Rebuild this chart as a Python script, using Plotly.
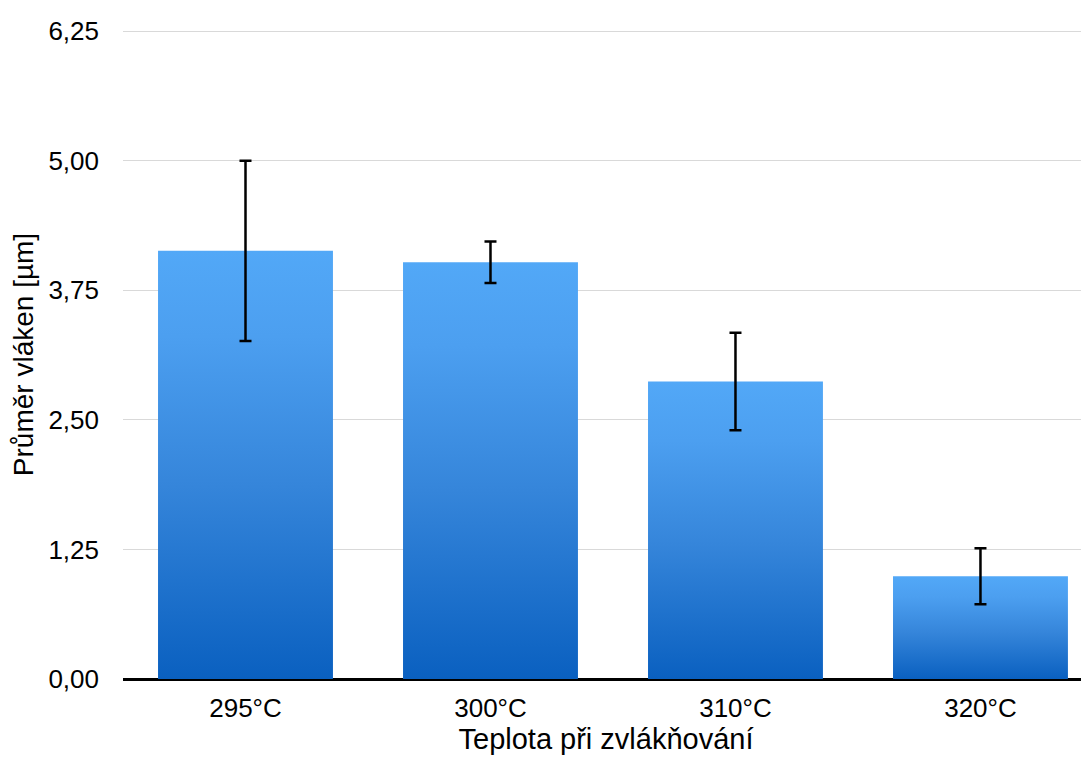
import plotly.graph_objects as go

categories = ["295°C", "300°C", "310°C", "320°C"]
means = [4.13, 4.02, 2.87, 0.99]
errors = [0.87, 0.20, 0.47, 0.27]
y_ticks = [0, 1.25, 2.5, 3.75, 5, 6.25]
y_tick_labels = ["0,00", "1,25", "2,50", "3,75", "5,00", "6,25"]

bar_width = 0.714
grad = [[0.0, "#0A60C0"], [0.45, "#3585DA"], [0.8, "#4C9FF0"], [1.0, "#52A8F7"]]

fig = go.Figure()
for i, (cat, v) in enumerate(zip(categories, means)):
    x0, x1 = i - bar_width / 2, i + bar_width / 2
    fig.add_trace(go.Scatter(
        x=[x0, x1, x1, x0, x0], y=[0, 0, v, v, 0],
        mode="lines", line=dict(width=0), fill="toself",
        fillgradient=dict(type="vertical", colorscale=grad, start=0, stop=v),
        hoverinfo="skip", showlegend=False,
    ))

fig.add_trace(go.Scatter(
    x=list(range(len(categories))), y=means, mode="markers",
    marker=dict(size=1, color="rgba(0,0,0,0)"),
    error_y=dict(type="data", array=errors, visible=True, color="#000000",
                 thickness=2.5, width=6),
    showlegend=False,
))

font = "Liberation Sans, Arial, sans-serif"
fig.update_layout(
    width=1081, height=757,
    margin=dict(l=115, r=0, t=22, b=86),
    paper_bgcolor="white", plot_bgcolor="white",
    font=dict(family=font, size=26, color="#000000"),
    xaxis=dict(
        range=[-0.5, 3.443], tickvals=list(range(len(categories))), ticktext=categories,
        showgrid=False, zeroline=False, showline=False, ticks="",
        ticklabelstandoff=11,
        title=dict(text="Teplota při zvlákňování", font=dict(size=29), standoff=6),
    ),
    yaxis=dict(
        range=[0, 6.26], tickvals=y_ticks, ticktext=y_tick_labels,
        showgrid=True, gridcolor="#d9d9d9", gridwidth=1,
        zeroline=True, zerolinecolor="#000000", zerolinewidth=3,
        showline=False, ticks="", ticklabelstandoff=23,
        title=dict(text="Průměr vláken [µm]", font=dict(size=28), standoff=14),
    ),
)

fig.write_html("out.html")
